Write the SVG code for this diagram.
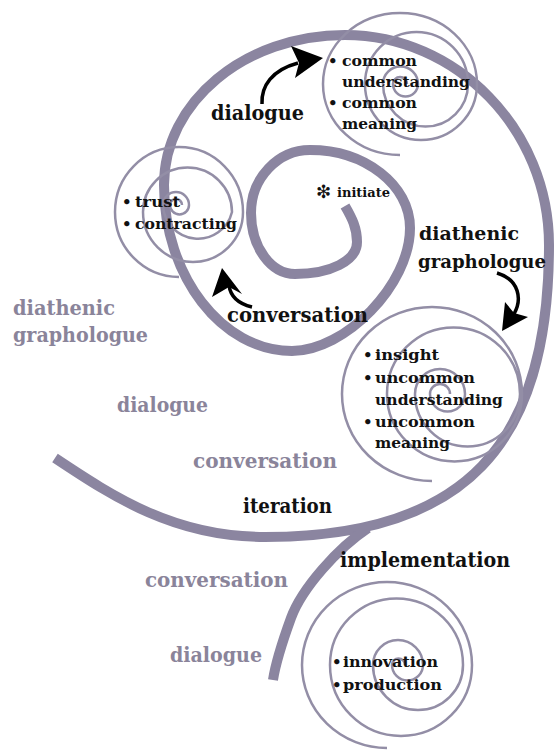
<svg xmlns="http://www.w3.org/2000/svg" width="555" height="751" viewBox="0 0 555 751">
<style>
.thick{fill:none;stroke:#8b85a0;stroke-width:10;stroke-linecap:butt}
.thin{fill:none;stroke:#938ea6;stroke-width:2.5}
.blk{font-family:"DejaVu Serif","Liberation Serif",serif;font-weight:bold;font-size:20px;fill:#111}
.gry{font-family:"DejaVu Serif","Liberation Serif",serif;font-weight:bold;font-size:20px;fill:#8a849a}
.sm{font-family:"DejaVu Serif","Liberation Serif",serif;font-weight:bold;font-size:15px;fill:#111}
.arr{fill:none;stroke:#000;stroke-width:3.5}
</style>
<rect width="555" height="751" fill="#fff"/>
<g id="connectors">
<path id="main-spiral" class="thick" d="M 345,206 C 352,218 357,228 357,242 C 357,261 330,274 295,274 C 271,274 251,247 251,213 C 251,178 278,150 310,150 C 365,150 410,185 410,228 C 410,285 345,351 292,351 C 222,351 164,276 164,185 C 164,102 245,35 345,35 C 457,35 549,130 549,245 C 549,445 465,537 265,537 C 175,537 115,498 55,458"/>
<path id="tail" class="thick" d="M 368,528 C 338,548 302,588 291,618 C 283,640 276,660 273,680"/>
<g id="arrow-dialogue">
<path class="arr" d="M 262,104 C 261,86 272,70 298,63"/>
<path d="M 323,58 L 291,46 L 299,63 L 295,78 Z" fill="#000"/>
</g>
<g id="arrow-conversation">
<path class="arr" d="M 229,285 Q 231,302 252,307"/>
<path d="M 222,268 L 212,297 L 229,287 L 242,294 Z" fill="#000"/>
</g>
<g id="arrow-diathenic">
<path class="arr" d="M 497,273 C 520,280 522,300 514,314"/>
<path d="M 502,331 L 505,302 L 514,313 L 528,317 Z" fill="#000"/>
</g>
</g>
<g id="node-common">
<path class="thin" d="M 400,155 A 77 71 0 0 1 323,84 A 77 71 0 0 1 477,84 A 56 56 0 0 1 365,84 A 51.5 52 0 0 1 468,84 A 42.5 42.5 0 0 1 383,84 A 17.5 17.5 0 0 1 418,84 A 12.5 12.5 0 0 1 393,84 A 7 7 0 0 1 407,84"/>
<text class="sm" x="328" y="66">•</text>
<text class="sm" x="342" y="66" textLength="75" lengthAdjust="spacingAndGlyphs">common</text>
<text class="sm" x="342" y="87" textLength="128" lengthAdjust="spacingAndGlyphs">understanding</text>
<text class="sm" x="328" y="108">•</text>
<text class="sm" x="342" y="108" textLength="75" lengthAdjust="spacingAndGlyphs">common</text>
<text class="sm" x="342" y="129" textLength="75" lengthAdjust="spacingAndGlyphs">meaning</text>
</g>
<g id="node-trust">
<path class="thin" d="M 179,277 A 64 65 0 0 1 115,212 A 64 65 0 0 1 243,212 A 50 50 0 0 1 143,212 A 44.5 44.5 0 0 1 232,212 A 35 35 0 0 1 163,205 A 13 13 0 0 1 189,205 A 9.5 9.5 0 0 1 170,205 A 6 6 0 0 1 182,205"/>
<text class="sm" x="122" y="207">•</text>
<text class="sm" x="135" y="207" textLength="45" lengthAdjust="spacingAndGlyphs">trust</text>
<text class="sm" x="122" y="229">•</text>
<text class="sm" x="135" y="229" textLength="102" lengthAdjust="spacingAndGlyphs">contracting</text>
</g>
<g id="node-initiate">
<text x="316" y="198" font-family="DejaVu Sans,sans-serif" font-size="18" font-weight="bold" fill="#111">❇</text>
<text class="sm" x="337" y="197" style="font-size:13px" textLength="53" lengthAdjust="spacingAndGlyphs">initiate</text>
</g>
<g id="node-insight">
<path class="thin" d="M 432,481 A 90 87 0 0 1 342,394 A 90 87 0 0 1 522,394 A 67.5 67.5 0 0 1 387,394 A 66.5 66.5 0 0 1 520,394 A 52.5 52.5 0 0 1 415,394 A 25 25 0 0 1 465,394 A 17.5 17.5 0 0 1 430,394 A 10 10 0 0 1 450,394"/>
<text class="sm" x="363" y="360">•</text>
<text class="sm" x="375" y="360" textLength="64" lengthAdjust="spacingAndGlyphs">insight</text>
<text class="sm" x="363" y="383">•</text>
<text class="sm" x="375" y="383" textLength="100" lengthAdjust="spacingAndGlyphs">uncommon</text>
<text class="sm" x="375" y="405" textLength="128" lengthAdjust="spacingAndGlyphs">understanding</text>
<text class="sm" x="363" y="427">•</text>
<text class="sm" x="375" y="427" textLength="100" lengthAdjust="spacingAndGlyphs">uncommon</text>
<text class="sm" x="375" y="448" textLength="75" lengthAdjust="spacingAndGlyphs">meaning</text>
</g>
<g id="node-innovation">
<path class="thin" d="M 387,748 A 85 83 0 0 1 302,665 A 85 83 0 0 1 472,665 A 71 71 0 0 1 330,665 A 66.5 66.5 0 0 1 463,665 A 45 45 0 0 1 373,665 A 25 25 0 0 1 423,665 A 15.5 15.5 0 0 1 392,665 A 6.5 6.5 0 0 1 405,665"/>
<text class="sm" x="332" y="667">•</text>
<text class="sm" x="343" y="667" textLength="95" lengthAdjust="spacingAndGlyphs">innovation</text>
<text class="sm" x="332" y="690">•</text>
<text class="sm" x="343" y="690" textLength="99" lengthAdjust="spacingAndGlyphs">production</text>
</g>
<g id="labels">
<text class="blk" x="211" y="120" textLength="93" lengthAdjust="spacingAndGlyphs">dialogue</text>
<text class="blk" x="227" y="322" textLength="141" lengthAdjust="spacingAndGlyphs">conversation</text>
<text class="blk" x="419" y="240" style="font-size:19px" textLength="100" lengthAdjust="spacingAndGlyphs">diathenic</text>
<text class="blk" x="418" y="268" style="font-size:18px" textLength="128" lengthAdjust="spacingAndGlyphs">graphologue</text>
<text class="blk" x="243" y="513" textLength="89" lengthAdjust="spacingAndGlyphs">iteration</text>
<text class="blk" x="340" y="567" textLength="170" lengthAdjust="spacingAndGlyphs">implementation</text>
<text class="gry" x="13" y="315" textLength="102" lengthAdjust="spacingAndGlyphs">diathenic</text>
<text class="gry" x="13" y="342" textLength="135" lengthAdjust="spacingAndGlyphs">graphologue</text>
<text class="gry" x="117" y="412" textLength="91" lengthAdjust="spacingAndGlyphs">dialogue</text>
<text class="gry" x="193" y="468" textLength="144" lengthAdjust="spacingAndGlyphs">conversation</text>
<text class="gry" x="145" y="587" textLength="143" lengthAdjust="spacingAndGlyphs">conversation</text>
<text class="gry" x="170" y="662" textLength="92" lengthAdjust="spacingAndGlyphs">dialogue</text>
</g>
</svg>
